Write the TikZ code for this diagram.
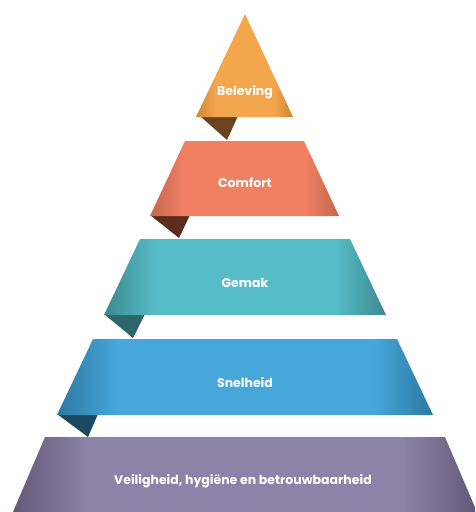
\documentclass[tikz,border=0pt]{standalone}
\usepackage{fontspec}
\setmainfont{Poppins}
\usepackage{tikz}

\definecolor{belevingcol}{HTML}{F4A64C}
\definecolor{belevingedge}{HTML}{CC8536}
\definecolor{belevingfold}{HTML}{6A4421}
\definecolor{comfortcol}{HTML}{F17F62}
\definecolor{comfortedge}{HTML}{C5674E}
\definecolor{comfortfold}{HTML}{5B2D1F}
\definecolor{gemakcol}{HTML}{56BCC7}
\definecolor{gemakedge}{HTML}{3C8990}
\definecolor{gemakfold}{HTML}{2D6669}
\definecolor{snelheidcol}{HTML}{47A7DB}
\definecolor{snelheidedge}{HTML}{2C78A1}
\definecolor{snelheidfold}{HTML}{1D4960}
\definecolor{veiligcol}{HTML}{8B83A8}
\definecolor{veiligedge}{HTML}{625879}

\pgfdeclarehorizontalshading{belevingshade}{100bp}{color(0bp)=(belevingedge); color(25bp)=(belevingedge); color(35bp)=(belevingcol); color(65bp)=(belevingcol); color(75bp)=(belevingedge); color(100bp)=(belevingedge)}
\pgfdeclarehorizontalshading{comfortshade}{100bp}{color(0bp)=(comfortedge); color(25bp)=(comfortedge); color(34bp)=(comfortcol); color(66bp)=(comfortcol); color(75bp)=(comfortedge); color(100bp)=(comfortedge)}
\pgfdeclarehorizontalshading{gemakshade}{100bp}{color(0bp)=(gemakedge); color(25bp)=(gemakedge); color(34bp)=(gemakcol); color(66bp)=(gemakcol); color(75bp)=(gemakedge); color(100bp)=(gemakedge)}
\pgfdeclarehorizontalshading{snelheidshade}{100bp}{color(0bp)=(snelheidedge); color(25bp)=(snelheidedge); color(33bp)=(snelheidcol); color(67bp)=(snelheidcol); color(75bp)=(snelheidedge); color(100bp)=(snelheidedge)}
\pgfdeclarehorizontalshading{veiligshade}{100bp}{color(0bp)=(veiligedge); color(25bp)=(veiligedge); color(33bp)=(veiligcol); color(67bp)=(veiligcol); color(75bp)=(veiligedge); color(100bp)=(veiligedge)}

\tikzset{
    band/.style={
           draw=none,
           },
    fold/.style={
           draw=none,
           },
    bandtext/.style={
           text=white,
           font=\bfseries\fontsize{12.5}{15}\selectfont,
           inner sep=1pt,
           },
}

\begin{document}
\begin{tikzpicture}[x=1pt,y=-1pt]
 \useasboundingbox (0,0) rectangle (475,512);
 \clip (0,0) rectangle (475,512);
 % the folds behind every band
 \fill[fold,belevingfold] (200,116) -- (238,116) -- (227,140) -- cycle;
 \fill[fold,comfortfold] (150,215) -- (190,215) -- (179,238) -- cycle;
 \fill[fold,gemakfold] (104,314) -- (145,314) -- (133,338) -- cycle;
 \fill[fold,snelheidfold] (57,414) -- (98,414) -- (88,437) -- cycle;
 % the bands
 \shade[band,shading=belevingshade] (245,14) -- (293,117) -- (196,117) -- cycle;
 \shade[band,shading=comfortshade] (185,141) -- (304,141) -- (339,216) -- (150,216) -- cycle;
 \shade[band,shading=gemakshade] (140,239) -- (350,239) -- (386,315) -- (104,315) -- cycle;
 \shade[band,shading=snelheidshade] (93,339) -- (397,339) -- (433,415) -- (57,415) -- cycle;
 \shade[band,shading=veiligshade] (45,437) -- (445,437) -- (477,512) -- (13,512) -- cycle;
 % the texts
 \node[bandtext] (beleving) at (245,92) {Beleving};
 \node[bandtext] (comfort) at (245,183) {Comfort};
 \node[bandtext] (gemak) at (245,283) {Gemak};
 \node[bandtext] (snelheid) at (245,383) {Snelheid};
 \node[bandtext] (veiligheid) at (243,481) {Veiligheid, hygiëne en betrouwbaarheid};
\end{tikzpicture}
\end{document}
